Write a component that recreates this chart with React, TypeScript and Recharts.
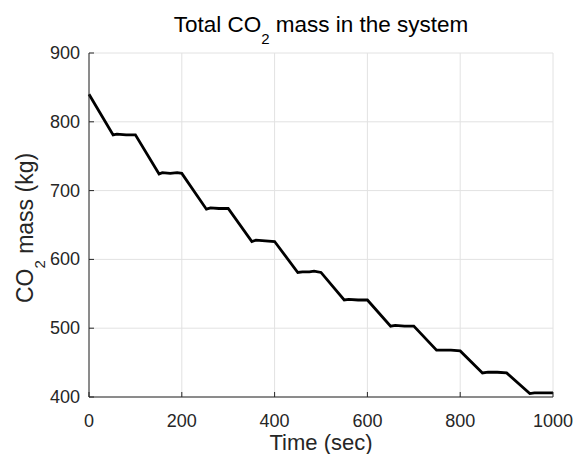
import { LineChart, Line, XAxis, YAxis, CartesianGrid } from "recharts";

// sampled off the figure: time (s) and total CO2 mass (kg)
const time = [
  0, 14, 52, 60, 80, 100,
  151, 158, 175, 190, 200,
  253, 262, 280, 300,
  351, 360, 380, 400,
  450, 460, 475, 485, 500,
  550, 560, 580, 600,
  650, 660, 680, 700,
  749, 760, 780, 800,
  848, 860, 880, 900,
  950, 960, 980, 1000,
];
const mass = [
  840, 824, 781, 782, 781, 781,
  724, 726, 725, 726, 725,
  673, 675, 674, 674,
  626, 628, 627, 626,
  581, 582, 582, 583, 581,
  541, 542, 541, 541,
  503, 504, 503, 503,
  468, 468, 468, 467,
  435, 436, 436, 435,
  405, 406, 406, 406,
];
const xTicks = [0, 200, 400, 600, 800, 1000];
const yTicks = [400, 500, 600, 700, 800, 900];

const data = time.map((t, i) => ({ t, m: mass[i] }));

const W = 574;
const H = 454;
const PLOT_LEFT = 89;
const PLOT_RIGHT = 553;
const PLOT_TOP = 53;
const PLOT_BOTTOM = 397;
const Y_AXIS_W = 60;

const FONT = "'Liberation Sans', Arial, Helvetica, sans-serif";
const INK = "#262626";
const GRID = "#e2e2e2";

function XTick(props: any) {
  const { x, payload } = props;
  return (
    <g>
      <line x1={x} x2={x} y1={PLOT_BOTTOM} y2={PLOT_BOTTOM - 5} stroke={INK} strokeWidth={1} />
      <text x={x} y={PLOT_BOTTOM + 24} textAnchor="middle" dominantBaseline="central"
        fontFamily={FONT} fontSize={18} fill={INK}>
        {payload.value}
      </text>
    </g>
  );
}

function YTick(props: any) {
  const { y, payload } = props;
  return (
    <g>
      <line x1={PLOT_LEFT} x2={PLOT_LEFT + 5} y1={y} y2={y} stroke={INK} strokeWidth={1} />
      <text x={PLOT_LEFT - 9} y={y} textAnchor="end" dominantBaseline="central"
        fontFamily={FONT} fontSize={18} fill={INK}>
        {payload.value}
      </text>
    </g>
  );
}

export default function App() {
  return (
    <div style={{ position: "absolute", left: 0, top: 0, width: W, height: H, background: "#fff" }}>
      <LineChart
        width={W}
        height={H}
        data={data}
        margin={{
          top: PLOT_TOP,
          left: PLOT_LEFT - Y_AXIS_W,
          right: W - PLOT_RIGHT,
          bottom: 0,
        }}
      >
        <CartesianGrid stroke={GRID} strokeWidth={1} />
        <XAxis
          dataKey="t"
          type="number"
          domain={[0, 1000]}
          ticks={xTicks}
          height={H - PLOT_BOTTOM}
          axisLine={{ stroke: INK, strokeWidth: 1 }}
          tickLine={false}
          tick={<XTick />}
          interval={0}
          label={{
            content: () => (
              <g>
                <text x={(PLOT_LEFT + PLOT_RIGHT) / 2} y={450} textAnchor="middle"
                  fontFamily={FONT} fontSize={22} fill={INK}>
                  Time (sec)
                </text>
                {/* title */}
                <text x={(PLOT_LEFT + PLOT_RIGHT) / 2} y={32.3} textAnchor="middle"
                  fontFamily={FONT} fontSize={22.5} fill="#000">
                  Total CO<tspan fontSize={15} dy={12}>2</tspan>
                  <tspan dy={-12}> mass in the system</tspan>
                </text>
              </g>
            ),
          }}
        />
        <YAxis
          type="number"
          domain={[400, 900]}
          ticks={yTicks}
          width={Y_AXIS_W}
          axisLine={{ stroke: INK, strokeWidth: 1 }}
          tickLine={false}
          tick={<YTick />}
          interval={0}
          label={{
            content: () => (
              <text
                transform={`translate(33.3, 228) rotate(-90)`}
                textAnchor="middle"
                fontFamily={FONT}
                fontSize={23}
                fill={INK}
              >
                CO<tspan fontSize={15} dy={12}>2</tspan>
                <tspan dy={-12}> mass (kg)</tspan>
              </text>
            ),
          }}
        />
        <Line
          type="linear"
          dataKey="m"
          stroke="#000"
          strokeWidth={2.8}
          dot={false}
          activeDot={false}
          isAnimationActive={false}
        />
      </LineChart>
    </div>
  );
}
